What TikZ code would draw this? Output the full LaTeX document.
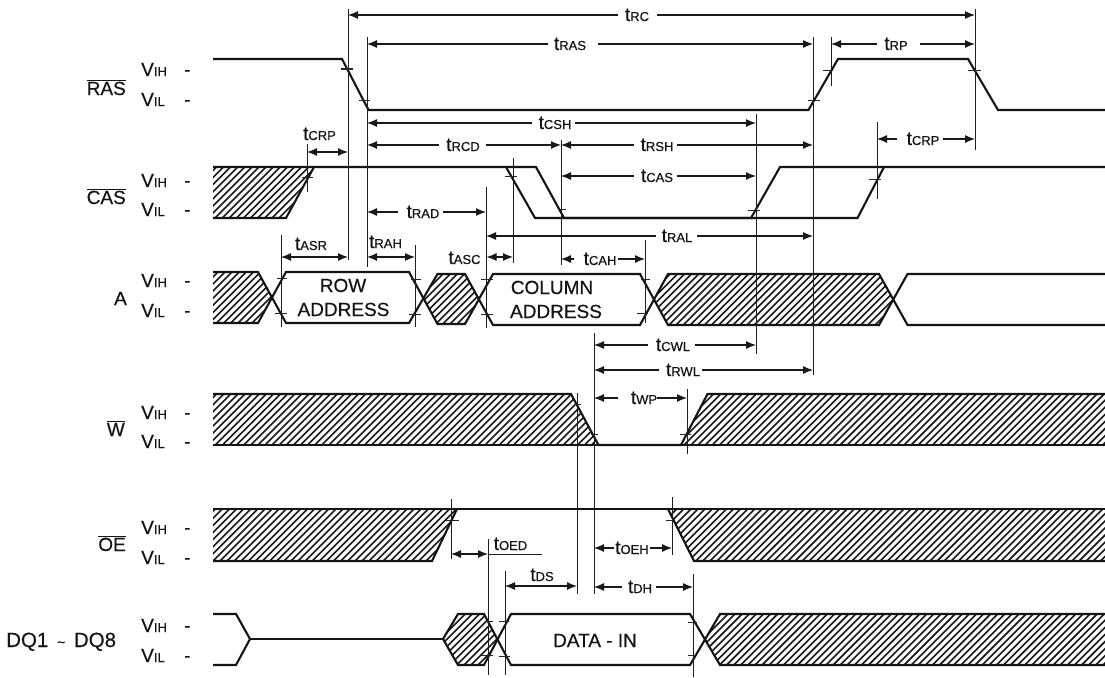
\documentclass[tikz,border=0pt]{standalone}
\usepackage{fontspec}
\setmainfont[FakeBold=0.4,AutoFakeBold=0.4]{Liberation Sans}
\usetikzlibrary{arrows.meta}
\tikzset{
  sig/.style={line width=2.1pt,line join=miter,black!92},
  ref/.style={line width=1pt,black!88},
  tck/.style={line width=1pt,black!85},
  dim/.style={line width=1.2pt,black!90,-{Latex[length=10pt,width=8pt]}},
  bidim/.style={dim,{Latex[length=10pt,width=8pt]}-{Latex[length=10pt,width=8pt]}},
  hatchline/.style={line width=1.6pt,black!90},
  lbl/.style={inner sep=0pt,anchor=base,font=\fontsize{19}{19}\selectfont\bfseries,black!92},
  lblr/.style={lbl,anchor=base east},
  lbll/.style={lbl,anchor=base west}
}
\newcommand{\tm}[1]{t{\fontsize{13}{13}\selectfont\bfseries #1}}
\newcommand{\vv}[1]{V{\fontsize{13}{13}\selectfont\bfseries #1}}
\newcommand{\ovl}[1]{$\overline{\mbox{#1}}$}
\newcommand{\hatched}[1]{\begin{scope}\clip #1;
  \foreach \h in {0,7.1,...,1800} {\draw[hatchline] (\h,0) -- ++(-677,677);}
  \end{scope}}
% y, x1, x2, gapL, gapR, label centre, text, name
\newcommand{\dimh}[8]{%
  \draw[dim] (#4,#1) -- (#2,#1);
  \draw[dim] (#5,#1) -- (#3,#1);
  \node[lbl] (#8) at (#6,#1+6) {#7};}
\newcommand{\levels}[4]{%
  \node[lbll] (vih#1) at (141,#2) {\vv{IH}};
  \node[lbll] (vil#1) at (141,#3) {\vv{IL}};
  \node[lbll] (dh#1) at (184,#2) {-};
  \node[lbll] (dl#1) at (184,#3) {-};}
\begin{document}
\begin{tikzpicture}[x=1pt,y=-1pt]
\useasboundingbox[fill=white] (0,0) rectangle (1105,677);
% ---- hatching
\hatched{(213,167)--(314,167)--(286,218)--(213,218)--cycle}
\hatched{(213,272)--(258,272)--(272,297)--(258,323)--(213,323)--cycle}
\hatched{(423,298)--(437,274)--(465,274)--(479,298)--(465,324)--(437,324)--cycle}
\hatched{(654,299)--(668,274)--(879,274)--(893,299)--(879,325)--(668,325)--cycle}
\hatched{(213,394)--(571,394)--(598.5,445)--(213,445)--cycle}
\hatched{(681,445)--(707.5,394)--(1105,394)--(1105,445)--cycle}
\hatched{(213,509)--(457,509)--(432,561)--(213,561)--cycle}
\hatched{(668,509)--(1105,509)--(1105,561)--(694,561)--cycle}
\hatched{(443,639)--(458,614)--(484,614)--(498,639)--(484,665)--(458,665)--cycle}
\hatched{(705,639)--(720,614)--(1105,614)--(1105,665)--(720,665)--cycle}
% ---- signals
\draw[sig] (213,59)--(342,59)--(368.5,110)--(808.5,110)--(838,59)--(968,59)--(998,110)--(1105,110);
\draw[sig] (213,167)--(536,167)--(564,218)--(751,218)--(780,167)--(1105,167);
\draw[sig] (213,218)--(286,218)--(314,167);
\draw[sig] (506,167)--(535,218)--(857.5,218)--(884,167);
\draw[sig] (213,272)--(258,272)--(286,323)--(409,323)--(437.5,274)--(465,274)--(493,325)--(640,325)--(668,274)--(879,274)--(907.5,325)--(1105,325);
\draw[sig] (213,323)--(258,323)--(286,272)--(409,272)--(437.5,324)--(465,324)--(493,274)--(640,274)--(668,325)--(879,325)--(907.5,274)--(1105,274);
\draw[sig] (213,394)--(571,394)--(598.5,445)--(681,445)--(707.5,394)--(1105,394);
\draw[sig] (213,445)--(598.5,445);
\draw[sig] (681,445)--(1105,445);
\draw[sig] (213,509)--(1105,509);
\draw[sig] (213,561)--(432,561)--(457,509);
\draw[sig] (668,509)--(694,561)--(1105,561);
\draw[sig] (213,614)--(236,614)--(250,639)--(236,665)--(213,665);
\draw[sig] (250,639)--(443,639);
\draw[sig] (443,639)--(458,614)--(484,614)--(511,665)--(690,665)--(720,614)--(1105,614);
\draw[sig] (443,639)--(458,665)--(484,665)--(511,614)--(690,614)--(720,665)--(1105,665);
% ---- vertical reference lines
\draw[ref] (348,9)--(348,260);
\draw[ref] (367,37)--(367,267);
\draw[ref] (813,37)--(813,375);
\draw[ref] (831,37)--(831,86);
\draw[ref] (975,9)--(975,150);
\draw[ref] (756,114)--(756,354);
\draw[ref] (307,144)--(307,192);
\draw[ref] (877,122)--(877,199);
\draw[ref] (513,158)--(513,263);
\draw[ref] (561,140)--(561,265);
\draw[ref] (486.5,187)--(486.5,328);
\draw[ref] (281,235)--(281,327);
\draw[ref] (415,245)--(415,327);
\draw[ref] (645,240)--(645,323);
\draw[ref] (577,393)--(577,594);
\draw[ref] (594,333)--(594,594);
\draw[ref] (687,389)--(687,454);
\draw[ref] (451,499)--(451,559);
\draw[ref] (672,497)--(672,555);
\draw[ref] (488,539)--(488,675);
\draw[ref] (505,571)--(505,675);
\draw[ref] (693,574)--(693,677);
% ---- threshold ticks
\foreach \a/\b/\y in {341/353/69,359/370/100,808/820/100,823/833/70,968/981/70,
  302/313/177,505/517/176,559/566/209,748/760/210,869/881/179,
  277/287/278,275/287/313,411/421/279,409/421/314,481/493/279,481/493/314,641/650/279,637/648/313,
  574/581/404,591/598/434,680/691/434,
  446/459/520,666/673/520,
  486/493/621,481/493/655,499/509/621,499/510/656,688/697/622,688/697/655}
  {\draw[tck] (\a,\y)--(\b,\y);}
% ---- timing dimensions
\dimh{15}{348}{975}{618}{657}{637}{\tm{RC}}{trc}
\dimh{44}{367}{813}{548}{598}{570}{\tm{RAS}}{tras}
\dimh{44}{831}{975}{877}{920}{896}{\tm{RP}}{trp}
\dimh{123}{367}{756}{532}{575}{555}{\tm{CSH}}{tcsh}
\dimh{145}{367}{561}{439}{486}{463}{\tm{RCD}}{trcd}
\dimh{145}{561}{813}{634}{677}{657}{\tm{RSH}}{trsh}
\dimh{176}{561}{756}{634}{677}{657}{\tm{CAS}}{tcas}
\dimh{139}{877}{975}{897}{943}{923}{\tm{CRP}}{tcrpb}
\dimh{212}{367}{486}{398}{443}{423}{\tm{RAD}}{trad}
\dimh{236}{486}{813}{656}{697}{677}{\tm{RAL}}{tral}
\dimh{259}{561}{645}{574}{618}{600}{\tm{CAH}}{tcah}
\dimh{345}{594}{756}{648}{695}{673}{\tm{CWL}}{tcwl}
\dimh{370}{594}{813}{659}{702}{683}{\tm{RWL}}{trwl}
\dimh{398}{594}{687}{618}{657}{644}{\tm{WP}}{twp}
\dimh{548}{594}{672}{614}{650}{632}{\tm{OEH}}{toeh}
\dimh{587}{594}{693}{622}{656}{640}{\tm{DH}}{tdh}
% two-headed arrows with the label beside them
\draw[bidim] (307,152)--(348,152);
\node[lbl] (tcrpa) at (319.5,140) {\tm{CRP}};
\draw[bidim] (281,257)--(348,257);
\node[lbl] (tasr) at (311,250) {\tm{ASR}};
\draw[bidim] (367,257)--(415,257);
\node[lbl] (trah) at (385.5,248) {\tm{RAH}};
\draw[bidim] (486.5,257)--(513,257);
\node[lbl] (tasc) at (464.5,264) {\tm{ASC}};
\draw[bidim] (451,554)--(488,554);
\draw[ref] (488,554)--(542,554);
\node[lbl] (toed) at (510.5,550) {\tm{OED}};
\draw[bidim] (505,586)--(577,586);
\node[lbl] (tds) at (542,581) {\tm{DS}};
% ---- box texts
\node[lbl] (row) at (343,292) {ROW};
\node[lbl] (addr) at (343.5,316) {ADDRESS};
\node[lbl] (col) at (552,294) {COLUMN};
\node[lbl] (addc) at (556,318) {ADDRESS};
\node[lbl] (din) at (595,647) {DATA - IN};
% ---- signal names
\node[lblr] (ras) at (126,95) {\ovl{RAS}};
\node[lblr] (cas) at (126,204) {\ovl{CAS}};
\node[lblr] (a) at (127,305) {A};
\node[lblr] (w) at (125,436) {\ovl{W}};
\node[lblr] (oe) at (126,551) {\ovl{OE}};
\node[lbl,anchor=base west,font=\fontsize{20.5}{20.5}\selectfont\bfseries] (dq) at (6,647) {DQ1\hspace{3pt} {\fontsize{14}{14}\selectfont\bfseries\char`\~} \hspace{3pt}DQ8};
\levels{ras}{76}{106}{}
\levels{cas}{187}{216}{}
\levels{a}{287}{317}{}
\levels{w}{419}{448}{}
\levels{oe}{534}{564}{}
\levels{dq}{632}{662}{}
\end{tikzpicture}
\end{document}
